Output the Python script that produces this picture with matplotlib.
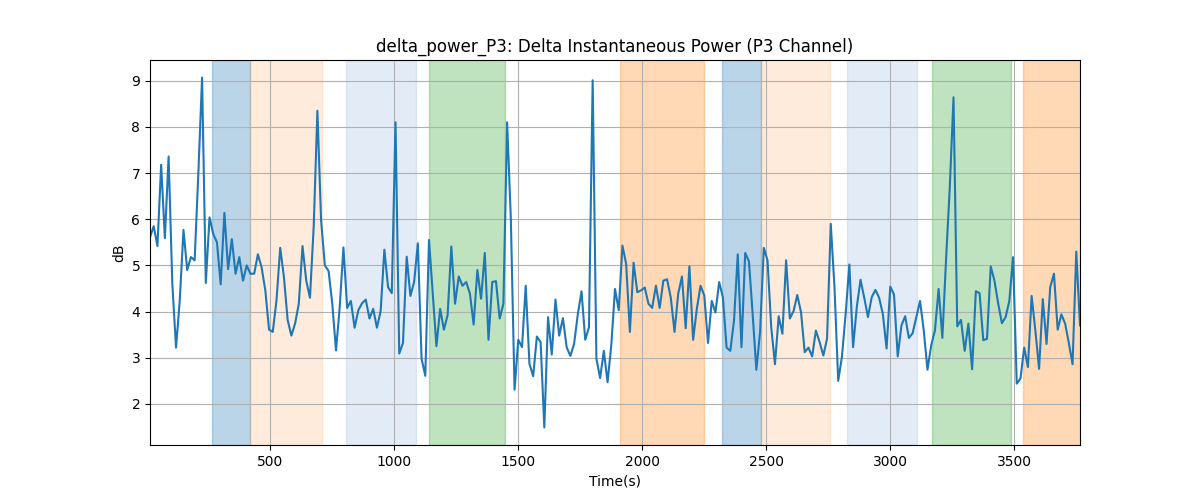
import numpy as np
import matplotlib
matplotlib.use("Agg")
import matplotlib.pyplot as plt

t_start = 15
t_step = 15

power_db = [
    5.61, 5.85, 5.42, 7.18, 5.59, 7.36, 4.6, 3.22, 4.24, 5.77,
    4.90, 5.18, 5.11, 7.0, 9.07, 4.62, 6.04, 5.68, 5.50, 4.59,
    6.14, 4.92, 5.57, 4.82, 5.18, 4.67, 5.0, 4.82, 4.82, 5.24,
    4.96, 4.46, 3.61, 3.56, 4.24, 5.38, 4.75, 3.82, 3.48, 3.74,
    4.17, 5.42, 4.67, 4.30, 5.83, 8.35, 5.97, 5.0, 4.88, 4.17,
    3.16, 4.10, 5.39, 4.08, 4.23, 3.65, 4.03, 4.18, 4.26, 3.85,
    4.06, 3.65, 4.01, 5.34, 4.53, 4.40, 8.10, 3.09, 3.32, 5.19,
    4.34, 4.64, 5.48, 2.98, 2.61, 5.55, 4.39, 3.25, 4.06, 3.61,
    3.92, 5.41, 4.17, 4.76, 4.56, 4.64, 4.39, 3.72, 4.90, 4.28,
    5.27, 3.39, 4.64, 4.66, 3.85, 4.17, 8.10, 6.0, 2.31, 3.39,
    3.23, 4.56, 2.87, 2.60, 3.46, 3.34, 1.49, 3.88, 3.07, 4.26,
    3.48, 3.86, 3.23, 3.04, 3.30, 3.94, 4.44, 3.39, 3.66, 9.01,
    2.98, 2.56, 3.15, 2.47, 3.27, 4.49, 4.03, 5.43, 5.03, 3.56,
    5.06, 4.42, 4.46, 4.52, 4.17, 4.08, 4.56, 4.08, 4.67, 4.70,
    4.30, 3.56, 4.39, 4.76, 3.64, 4.98, 3.39, 4.06, 4.56, 4.35,
    3.32, 4.23, 3.98, 4.64, 4.31, 3.22, 3.15, 3.81, 5.24, 3.23,
    5.27, 5.09, 3.95, 2.74, 3.56, 5.38, 5.11, 3.66, 2.86, 3.90,
    3.52, 5.11, 3.85, 4.01, 4.36, 3.99, 3.12, 3.22, 3.03, 3.59,
    3.34, 3.05, 3.41, 5.90, 4.53, 2.50, 3.02, 3.95, 5.02, 3.23,
    4.10, 4.69, 4.30, 3.88, 4.31, 4.47, 4.30, 3.95, 3.20, 4.54,
    4.37, 3.03, 3.70, 3.90, 3.43, 3.53, 3.88, 4.23, 3.59, 2.74,
    3.27, 3.59, 4.49, 3.43, 5.14, 6.7, 8.64, 3.68, 3.82, 3.15,
    3.74, 2.75, 4.44, 4.40, 3.38, 3.41, 4.98, 4.67, 4.18, 3.75,
    3.88, 4.23, 5.18, 2.44, 2.55, 3.22, 2.80, 4.34, 3.59, 2.76,
    4.27, 3.30, 4.53, 4.82, 3.61, 3.94, 3.74, 3.32, 2.86, 5.30,
    3.70,
]

span_starts = [265, 420, 805, 1140, 1910, 2323, 2477, 2825, 3168, 3535]
span_ends = [420, 710, 1086, 1445, 2248, 2477, 2757, 3106, 3487, 3800]
span_colors = ["#1f77b4", "#ff7f0e", "#aec7e8", "#2ca02c", "#ff7f0e",
               "#1f77b4", "#ff7f0e", "#aec7e8", "#2ca02c", "#ff7f0e"]
span_alphas = [0.3, 0.15, 0.35, 0.3, 0.3, 0.3, 0.15, 0.35, 0.3, 0.3]

time_s = t_start + t_step * np.arange(len(power_db))

fig, ax = plt.subplots(figsize=(12, 5), dpi=100)
for s, e, c, a in zip(span_starts, span_ends, span_colors, span_alphas):
    ax.axvspan(s, e, color=c, alpha=a)
ax.plot(time_s, power_db, color="#1f77b4", linewidth=1.5)
ax.set_xlim(time_s[0], time_s[-1])
ax.grid(True)
ax.set_title("delta_power_P3: Delta Instantaneous Power (P3 Channel)")
ax.set_xlabel("Time(s)")
ax.set_ylabel("dB")
fig.savefig("out.png")
